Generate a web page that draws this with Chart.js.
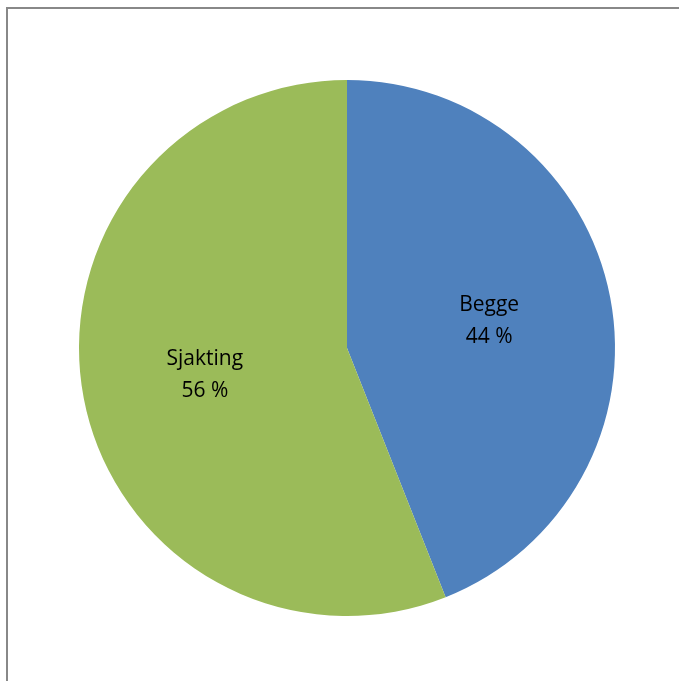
<!DOCTYPE html>
<html lang="no">
<head>
    <meta charset="UTF-8">
    <title>Sjakting / Begge</title>
    <script src="https://cdn.jsdelivr.net/npm/chart.js"></script>
    <style>
        body, html {
            margin: 0;
            padding: 0;
            background: #fff;
            overflow: hidden;
        }
        .wrap {
            position: relative;
            width: 679px;
            height: 681px;
        }
        .frame {
            position: absolute;
            left: 6px;
            top: 7px;
            width: 700px;
            height: 700px;
            border: 2px solid #888888;
            box-sizing: border-box;
        }
        canvas {
            position: absolute;
            left: 0;
            top: 0;
        }
    </style>
</head>
<body>
    <div class="wrap">
        <div class="frame"></div>
        <canvas id="pie" width="679" height="681"></canvas>
    </div>
    <script>
        const categories = ['Begge', 'Sjakting'];
        const shares = [44, 56];
        const sliceColors = ['#4F81BD', '#9BBB59'];

        // labels inside the slices, like the Excel data labels
        const sliceLabels = {
            id: 'sliceLabels',
            afterDatasetsDraw(chart) {
                const ctx = chart.ctx;
                const meta = chart.getDatasetMeta(0);
                ctx.save();
                ctx.font = '21px "Open Sans", sans-serif';
                ctx.fillStyle = '#000';
                ctx.textAlign = 'center';
                ctx.textBaseline = 'middle';
                meta.data.forEach((arc, i) => {
                    const mid = (arc.startAngle + arc.endAngle) / 2;
                    const r = arc.outerRadius * 0.54;
                    const x = arc.x + Math.cos(mid) * r;
                    const y = arc.y + Math.sin(mid) * r;
                    ctx.fillText(categories[i], x, y - 16);
                    ctx.fillText(shares[i] + ' %', x, y + 16);
                });
                ctx.restore();
            }
        };

        new Chart(document.getElementById('pie'), {
            type: 'pie',
            data: {
                labels: categories,
                datasets: [{
                    data: shares,
                    backgroundColor: sliceColors,
                    borderWidth: 0
                }]
            },
            options: {
                responsive: false,
                animation: false,
                layout: { padding: { left: 79, right: 64, top: 80, bottom: 65 } },
                plugins: {
                    legend: { display: false },
                    tooltip: { enabled: false }
                }
            },
            plugins: [sliceLabels]
        });
    </script>
</body>
</html>
